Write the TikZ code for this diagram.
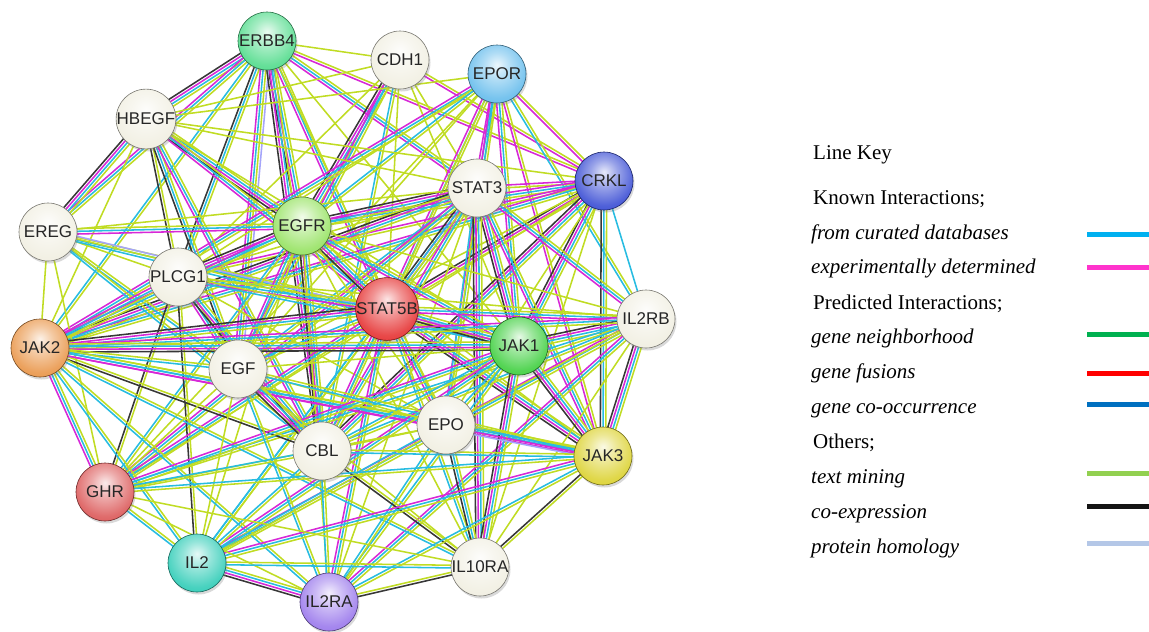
\documentclass[tikz,border=0pt]{standalone}
\usepackage{fontspec}
\setmainfont{Liberation Serif}
\setsansfont{Liberation Sans}
\usetikzlibrary{calc,shadows,backgrounds}

% evidence channels in the network
\definecolor{evc}{RGB}{40,188,225}
\definecolor{eve}{RGB}{215,40,215}
\definecolor{evt}{RGB}{192,220,35}
\definecolor{evk}{RGB}{55,55,55}
\definecolor{evh}{RGB}{165,165,250}
% key colours
\definecolor{keycur}{RGB}{0,176,240}
\definecolor{keyexp}{RGB}{255,51,204}
\definecolor{keynbh}{RGB}{0,176,80}
\definecolor{keyfus}{RGB}{255,0,0}
\definecolor{keycoo}{RGB}{0,112,192}
\definecolor{keytxt}{RGB}{146,208,80}
\definecolor{keycoe}{RGB}{20,20,20}
\definecolor{keyhom}{RGB}{180,199,231}

% glossy bead, lit from the top
\colorlet{bead}{white}
\pgfdeclareradialshading[bead]{sphere}{\pgfpoint{0bp}{8bp}}{%
  color(0bp)=(bead!12!white); color(12bp)=(bead!50!white);
  color(26bp)=(bead!85!white); color(38bp)=(bead);
  color(47bp)=(bead!78!black); color(56bp)=(bead!52!black);
  color(70bp)=(bead!40!black)}

\tikzset{
  protein/.style = {circle, minimum size=58pt, inner sep=0pt, shade, shading=sphere,
    /utils/exec={\colorlet{bead}{#1}}, draw=bead!50!black, line width=0.6pt,
    font=\fontsize{17}{17}\selectfont\sffamily, text=black!85,
    drop shadow={opacity=0.3, shadow xshift=1.5pt, shadow yshift=-2.5pt}},
  protein/.default = {rgb,255:red,240;green,238;blue,224},
  evline/.style  = {line width=1.55pt},
  keytext/.style = {anchor=base west, inner sep=0pt, font=\fontsize{21}{21}\selectfont},
  keybar/.style  = {line width=5pt},
}

% one bundle of parallel lines between two proteins, one line per channel
\newcommand{\evid}[3]{%
  \foreach \ch [count=\cnt] in {#3} {\xdef\nev{\cnt}}%
  \foreach \ch [count=\idx] in {#3} {%
    \pgfmathsetmacro\off{(\idx-(\nev+1)/2)*2.7}%
    \draw[evline, color=ev\ch] ($(#1)!\off pt!90:(#2)$) -- ($(#2)!\off pt!-90:(#1)$);%
  }%
}

\begin{document}
\begin{tikzpicture}[x=1pt, y=-1pt]
    \useasboundingbox (0,0) rectangle (1149,632);

    % proteins
    \node[protein={rgb,255:red,75;green,218;blue,135}]  (erbb4)  at (267, 41) {ERBB4};
    \node[protein]                                      (cdh1)   at (400, 60) {CDH1};
    \node[protein={rgb,255:red,95;green,185;blue,235}]  (epor)   at (497, 74) {EPOR};
    \node[protein]                                      (hbegf)  at (146,119) {HBEGF};
    \node[protein={rgb,255:red,50;green,70;blue,210}]   (crkl)   at (604,181) {CRKL};
    \node[protein]                                      (stat3)  at (477,188) {STAT3};
    \node[protein]                                      (ereg)   at ( 48,232) {EREG};
    \node[protein={rgb,255:red,145;green,225;blue,90}]  (egfr)   at (302,226) {EGFR};
    \node[protein]                                      (plcg1)  at (178,277) {PLCG1};
    \node[protein={rgb,255:red,228;green,42;blue,42}]   (stat5b) at (387,309) {STAT5B};
    \node[protein]                                      (il2rb)  at (646,319) {IL2RB};
    \node[protein={rgb,255:red,232;green,145;blue,65}]  (jak2)   at ( 40,348) {JAK2};
    \node[protein={rgb,255:red,55;green,205;blue,55}]   (jak1)   at (519,346) {JAK1};
    \node[protein]                                      (egf)    at (238,369) {EGF};
    \node[protein]                                      (epo)    at (446,425) {EPO};
    \node[protein]                                      (cbl)    at (322,451) {CBL};
    \node[protein={rgb,255:red,218;green,208;blue,40}]  (jak3)   at (603,456) {JAK3};
    \node[protein={rgb,255:red,218;green,82;blue,82}]   (ghr)    at (105,492) {GHR};
    \node[protein={rgb,255:red,40;green,202;blue,180}]  (il2)    at (197,563) {IL2};
    \node[protein]                                      (il10ra) at (480,567) {IL10RA};
    \node[protein={rgb,255:red,150;green,115;blue,235}] (il2ra)  at (329,602) {IL2RA};

    % interactions (c curated, e experiments, t text mining, k co-expression, h homology)
    \begin{scope}[on background layer]
        \evid{erbb4}{hbegf}{k,e,c,t}
        \evid{erbb4}{cdh1}{t}
        \evid{erbb4}{crkl}{e,t}
        \evid{erbb4}{stat3}{e,c,t}
        \evid{erbb4}{egfr}{k,e,c,t}
        \evid{erbb4}{plcg1}{k,c,t}
        \evid{erbb4}{ereg}{e,c,t}
        \evid{erbb4}{egf}{e,c,t,h}
        \evid{erbb4}{stat5b}{e,c,t}
        \evid{erbb4}{cbl}{k,e,c,t}
        \evid{erbb4}{jak2}{c,t}
        \evid{erbb4}{epo}{t}
        \evid{erbb4}{jak1}{t}
        \evid{cdh1}{hbegf}{t}
        \evid{cdh1}{egfr}{k,e,c,t}
        \evid{cdh1}{egf}{e,c,t}
        \evid{cdh1}{stat3}{t}
        \evid{cdh1}{crkl}{e,t}
        \evid{cdh1}{plcg1}{t}
        \evid{cdh1}{cbl}{c,t}
        \evid{cdh1}{stat5b}{t}
        \evid{cdh1}{jak1}{t}
        \evid{epor}{jak2}{e,c,t}
        \evid{epor}{stat5b}{e,c,t}
        \evid{epor}{stat3}{e,c,t}
        \evid{epor}{jak1}{e,c,t}
        \evid{epor}{epo}{e,c,t}
        \evid{epor}{crkl}{e,t}
        \evid{epor}{egfr}{c,t}
        \evid{epor}{plcg1}{t}
        \evid{epor}{jak3}{e,t}
        \evid{epor}{cbl}{t}
        \evid{epor}{ghr}{t}
        \evid{epor}{il2rb}{c,t}
        \evid{epor}{egf}{t}
        \evid{epor}{hbegf}{t}
        \evid{hbegf}{egfr}{k,e,c,t}
        \evid{hbegf}{ereg}{k,e,c,t}
        \evid{hbegf}{plcg1}{k,t}
        \evid{hbegf}{egf}{k,c,t}
        \evid{hbegf}{stat5b}{e,c,t}
        \evid{hbegf}{stat3}{t}
        \evid{hbegf}{cbl}{e,c,t}
        \evid{hbegf}{jak2}{t}
        \evid{hbegf}{jak1}{t}
        \evid{hbegf}{crkl}{t}
        \evid{crkl}{stat3}{e,t}
        \evid{crkl}{jak1}{k,e,c,t}
        \evid{crkl}{stat5b}{k,e,t}
        \evid{crkl}{il2rb}{c}
        \evid{crkl}{jak3}{k,c,t}
        \evid{crkl}{egfr}{e,c,t}
        \evid{crkl}{egf}{t}
        \evid{crkl}{cbl}{k,e,c,t}
        \evid{crkl}{plcg1}{e,t}
        \evid{crkl}{jak2}{e,c,t}
        \evid{crkl}{epo}{t}
        \evid{crkl}{il10ra}{t}
        \evid{crkl}{ghr}{t}
        \evid{stat3}{stat5b}{k,e,c,t}
        \evid{stat3}{egfr}{k,e,c,t}
        \evid{stat3}{jak1}{k,e,c,t}
        \evid{stat3}{jak2}{k,e,c,t}
        \evid{stat3}{jak3}{e,c,t}
        \evid{stat3}{il2rb}{e,c,t}
        \evid{stat3}{egf}{c,t}
        \evid{stat3}{plcg1}{t}
        \evid{stat3}{cbl}{e,c,t}
        \evid{stat3}{epo}{c,t}
        \evid{stat3}{il10ra}{k,e,c,t}
        \evid{stat3}{ghr}{e,c,t}
        \evid{stat3}{il2}{c,t}
        \evid{stat3}{il2ra}{t}
        \evid{stat3}{ereg}{t}
        \evid{ereg}{egfr}{e,c,t}
        \evid{ereg}{plcg1}{t}
        \evid{ereg}{stat5b}{c,t}
        \evid{ereg}{egf}{c,t}
        \evid{ereg}{cbl}{c,t}
        \evid{ereg}{jak1}{c,t,h}
        \evid{ereg}{jak2}{t}
        \evid{ereg}{ghr}{t}
        \evid{egfr}{plcg1}{k,e,c,t}
        \evid{egfr}{stat5b}{k,e,c,t}
        \evid{egfr}{egf}{e,c,t}
        \evid{egfr}{cbl}{k,e,c,t}
        \evid{egfr}{jak1}{e,c,t}
        \evid{egfr}{jak2}{e,c,t}
        \evid{egfr}{jak3}{t}
        \evid{egfr}{il2rb}{t}
        \evid{egfr}{epo}{t}
        \evid{egfr}{ghr}{c,t}
        \evid{egfr}{il2}{t}
        \evid{egfr}{il10ra}{t}
        \evid{egfr}{il2ra}{t}
        \evid{plcg1}{stat5b}{e,c,t}
        \evid{plcg1}{egf}{e,c,t}
        \evid{plcg1}{cbl}{k,e,c,t}
        \evid{plcg1}{jak2}{e,c,t}
        \evid{plcg1}{jak1}{c,t}
        \evid{plcg1}{ghr}{k,t}
        \evid{plcg1}{il2}{k,t}
        \evid{plcg1}{il2rb}{t}
        \evid{plcg1}{epo}{t}
        \evid{stat5b}{jak1}{k,e,c,t}
        \evid{stat5b}{jak2}{k,e,c,t}
        \evid{stat5b}{jak3}{k,e,c,t}
        \evid{stat5b}{il2rb}{e,c,t}
        \evid{stat5b}{egf}{c,t}
        \evid{stat5b}{cbl}{e,c,t}
        \evid{stat5b}{epo}{e,c,t}
        \evid{stat5b}{ghr}{e,c,t}
        \evid{stat5b}{il2}{c,t}
        \evid{stat5b}{il2ra}{e,c,t}
        \evid{stat5b}{il10ra}{c,t}
        \evid{il2rb}{jak1}{k,e,c,t}
        \evid{il2rb}{jak3}{k,e,c,t}
        \evid{il2rb}{jak2}{e,c,t}
        \evid{il2rb}{il2}{e,c,t}
        \evid{il2rb}{il2ra}{e,c,t}
        \evid{il2rb}{il10ra}{t}
        \evid{il2rb}{epo}{t}
        \evid{il2rb}{ghr}{c,t}
        \evid{il2rb}{cbl}{c,t}
        \evid{jak2}{jak1}{k,e,c,t}
        \evid{jak2}{jak3}{e,c,t}
        \evid{jak2}{egf}{c,t}
        \evid{jak2}{cbl}{k,t}
        \evid{jak2}{epo}{e,c,t}
        \evid{jak2}{ghr}{e,c,t}
        \evid{jak2}{il2}{c,t}
        \evid{jak2}{il2ra}{c,t}
        \evid{jak2}{il10ra}{c,t}
        \evid{jak1}{jak3}{k,e,c,t}
        \evid{jak1}{egf}{t}
        \evid{jak1}{epo}{c,t}
        \evid{jak1}{cbl}{c,t}
        \evid{jak1}{ghr}{e,c,t}
        \evid{jak1}{il2}{e,c,t}
        \evid{jak1}{il2ra}{c,t}
        \evid{jak1}{il10ra}{k,e,c,t}
        \evid{egf}{cbl}{k,e,c,t}
        \evid{egf}{epo}{t}
        \evid{egf}{ghr}{t}
        \evid{egf}{il2}{t}
        \evid{egf}{il2ra}{c,t}
        \evid{egf}{jak3}{c,t}
        \evid{egf}{il10ra}{t}
        \evid{epo}{jak3}{h,e,c,t}
        \evid{epo}{cbl}{t}
        \evid{epo}{ghr}{t}
        \evid{epo}{il2}{c,t}
        \evid{epo}{il2ra}{c,t}
        \evid{epo}{il10ra}{k,c,t}
        \evid{cbl}{jak3}{c,t}
        \evid{cbl}{ghr}{c,t}
        \evid{cbl}{il2}{c,t}
        \evid{cbl}{il2ra}{c,t}
        \evid{cbl}{il10ra}{k,t}
        \evid{jak3}{il2}{e,c,t}
        \evid{jak3}{il2ra}{c,t}
        \evid{jak3}{il10ra}{k,t}
        \evid{jak3}{ghr}{c,t}
        \evid{ghr}{il2}{c,t}
        \evid{ghr}{il2ra}{t}
        \evid{ghr}{il10ra}{t}
        \evid{il2}{il2ra}{k,e,c,t}
        \evid{il2}{il10ra}{c,t}
        \evid{il2ra}{il10ra}{k,t}
    \end{scope}

    % line key
    \node[keytext] (key)   at (813,159) {Line Key};
    \node[keytext] (known) at (813,204) {Known Interactions;};
    \node[keytext] (cur)   at (811,239) {\itshape from curated databases};
    \node[keytext] (exp)   at (811,273) {\itshape experimentally determined};
    \node[keytext] (pred)  at (813,309) {Predicted Interactions;};
    \node[keytext] (nbh)   at (811,343) {\itshape gene neighborhood};
    \node[keytext] (fus)   at (811,378) {\itshape gene fusions};
    \node[keytext] (coo)   at (811,413) {\itshape gene co-occurrence};
    \node[keytext] (oth)   at (813,448) {Others;};
    \node[keytext] (txt)   at (811,483) {\itshape text mining};
    \node[keytext] (coe)   at (811,518) {\itshape co-expression};
    \node[keytext] (hom)   at (811,553) {\itshape protein homology};

    \draw[keybar, keycur] (1087,234) -- (1149,234);
    \draw[keybar, keyexp] (1087,267) -- (1149,267);
    \draw[keybar, keynbh] (1087,334) -- (1149,334);
    \draw[keybar, keyfus] (1087,373) -- (1149,373);
    \draw[keybar, keycoo] (1087,404) -- (1149,404);
    \draw[keybar, keytxt] (1087,473) -- (1149,473);
    \draw[keybar, keycoe] (1087,506) -- (1149,506);
    \draw[keybar, keyhom] (1087,543) -- (1149,543);
\end{tikzpicture}
\end{document}
